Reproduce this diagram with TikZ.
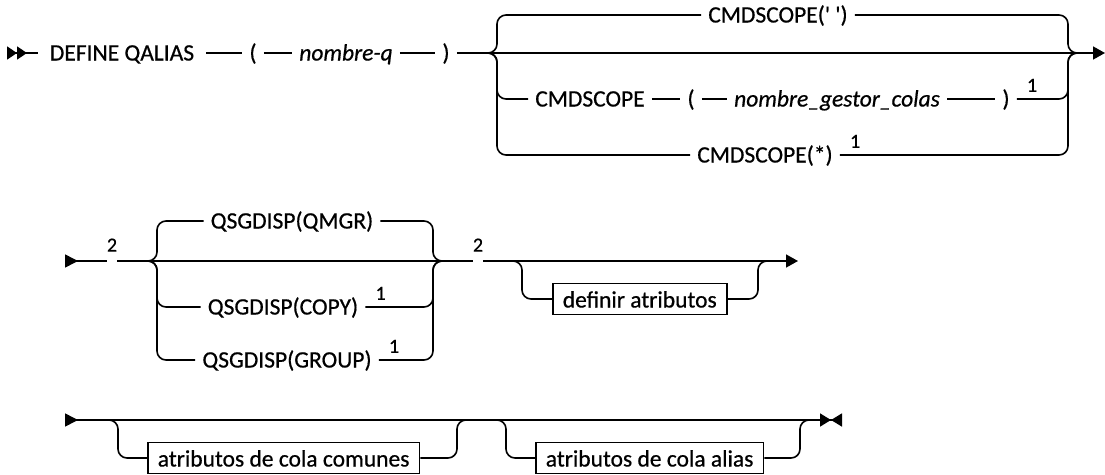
\documentclass[tikz,border=0pt]{standalone}
\usepackage{fontspec}
\setmainfont{Carlito}[FakeBold=0.6]
\usetikzlibrary{arrows.meta,positioning}

\begin{document}
\begin{tikzpicture}[
    x=1pt, y=-1pt,
    rail/.style={line width=1.6pt, rounded corners=9pt},
    kw/.style={inner xsep=7pt, inner ysep=0pt, text height=15pt, text depth=0pt, font=\fontsize{23.5}{26}\selectfont},
    var/.style={kw, font=\fontsize{23.5}{26}\selectfont\itshape},
    attbox/.style={draw, line width=1.6pt, anchor=west, inner xsep=10pt, inner ysep=7pt, text height=17pt, text depth=0pt, font=\fontsize{23.5}{26}\selectfont},
    fnote/.style={inner sep=0pt, font=\fontsize{20}{21}\selectfont},
    gap/.style={inner sep=0pt, minimum width=10pt, minimum height=0pt},
    begarr/.style={arrows={Triangle[reversed,length=13pt,width=13pt]-}},
    dblarr/.style={arrows={Triangle[reversed,length=10pt,width=13pt]Triangle[reversed,length=10pt,width=13pt]-}},
    endarr/.style={arrows={-Triangle[length=12pt,width=13pt]}},
    stoparr/.style={arrows={-Triangle[length=11pt,width=13pt]Triangle[reversed,length=11pt,width=13pt]}}
]
\useasboundingbox (0,0) rectangle (1105,474);

% DEFINE QALIAS line
\node[kw, inner xsep=12pt] (defq) at (122,53) {DEFINE QALIAS};
\node[kw] (lp1) at (253,53) {(};
\node[var] (qname) at (346,53) {nombre-q};
\node[kw] (rp1) at (446,53) {)};
\node[kw] (cmd1) at (778,15) {CMDSCOPE(\textquotesingle\ \textquotesingle)};
\node[kw] (cmd2) at (590,99) {CMDSCOPE};
\node[kw] (lp2) at (691,99) {(};
\node[var] (gname) at (837,99) {nombre\_gestor\_colas};
\node[kw] (rp2) at (1006,99) {)};
\node[kw] (cmd3) at (765,155) {CMDSCOPE(*)};
\node[fnote, above right=7pt and 10pt of rp2.east] (f1a) {1};
\node[fnote, above right=7pt and 10pt of cmd3.east] (f1b) {1};

\coordinate (s1) at (7,53);
\coordinate (b1L) at (488,53);
\coordinate (v1L) at (497,53);
\coordinate (v1R) at (1068,53);
\coordinate (b1R) at (1077,53);
\coordinate (e1) at (1105,53);

\draw[rail, dblarr] (s1) -- (defq);
\draw[rail] (defq) -- (lp1);
\draw[rail] (lp1) -- (qname);
\draw[rail] (qname) -- (rp1);
\draw[rail, endarr] (rp1) -- (b1L) -- (b1R) -- (e1);
\draw[rail] (b1L) -| (v1L |- cmd1) -- (cmd1);
\draw[rail] (cmd1) -| (v1R) -- (b1R);
\draw[rail] (b1L) -| (v1L |- cmd2) -- (cmd2);
\draw[rail] (cmd2) -- (lp2);
\draw[rail] (lp2) -- (gname);
\draw[rail] (gname) -- (rp2);
\draw[rail] (rp2) -| (v1R) -- (b1R);
\draw[rail] (b1L) -| (v1L |- cmd3) -- (cmd3);
\draw[rail] (cmd3) -| (v1R) -- (b1R);

% QSGDISP line
\node[gap] (g2a) at (112,261) {};
\node[fnote, above=9pt of g2a] (n2a) {2};
\node[kw] (qmgr) at (292,221) {QSGDISP(QMGR)};
\node[kw] (copy) at (283,307) {QSGDISP(COPY)};
\node[kw] (group) at (287,360) {QSGDISP(GROUP)};
\node[fnote, above right=7pt and 10pt of copy.east] (f1c) {1};
\node[fnote, above right=7pt and 10pt of group.east] (f1d) {1};
\node[gap] (g2b) at (478,261) {};
\node[fnote, above=9pt of g2b] (n2b) {2};
\node[attbox] (defa) at (552,299) {definir atributos};

\coordinate (s2) at (65,261);
\coordinate (b2L) at (148,261);
\coordinate (v2L) at (157,261);
\coordinate (v2R) at (433,261);
\coordinate (b2R) at (442,261);
\coordinate (o2L) at (513,261);
\coordinate (w2L) at (522,261);
\coordinate (w2R) at (758,261);
\coordinate (o2R) at (767,261);
\coordinate (e2) at (798,261);

\draw[rail, begarr] (s2) -- (g2a);
\draw[rail] (g2a) -- (b2L) -- (b2R) -- (g2b);
\draw[rail, endarr] (g2b) -- (o2L) -- (o2R) -- (e2);
\draw[rail] (b2L) -| (v2L |- qmgr) -- (qmgr);
\draw[rail] (qmgr) -| (v2R) -- (b2R);
\draw[rail] (b2L) -| (v2L |- copy) -- (copy);
\draw[rail] (copy) -| (v2R) -- (b2R);
\draw[rail] (b2L) -| (v2L |- group) -- (group);
\draw[rail] (group) -| (v2R) -- (b2R);
\draw[rail] (o2L) -| (w2L |- defa) -- (defa);
\draw[rail] (defa) -| (w2R) -- (o2R);

% attributes line
\node[attbox] (atc) at (147,458) {atributos de cola comunes};
\node[attbox] (ata) at (535,458) {atributos de cola alias};

\coordinate (s3) at (65,420);
\coordinate (o3aL) at (109,420);
\coordinate (w3aL) at (118,420);
\coordinate (w3aR) at (457,420);
\coordinate (o3aR) at (466,420);
\coordinate (o3bL) at (497,420);
\coordinate (w3bL) at (506,420);
\coordinate (w3bR) at (800,420);
\coordinate (o3bR) at (809,420);
\coordinate (e3) at (842,420);

\draw[rail, begarr] (s3) -- (o3aL) -- (o3aR) -- (o3bL) -- (o3bR);
\draw[rail, stoparr] (o3bR) -- (e3);
\draw[rail] (o3aL) -| (w3aL |- atc) -- (atc);
\draw[rail] (atc) -| (w3aR) -- (o3aR);
\draw[rail] (o3bL) -| (w3bL |- ata) -- (ata);
\draw[rail] (ata) -| (w3bR) -- (o3bR);
\end{tikzpicture}
\end{document}
